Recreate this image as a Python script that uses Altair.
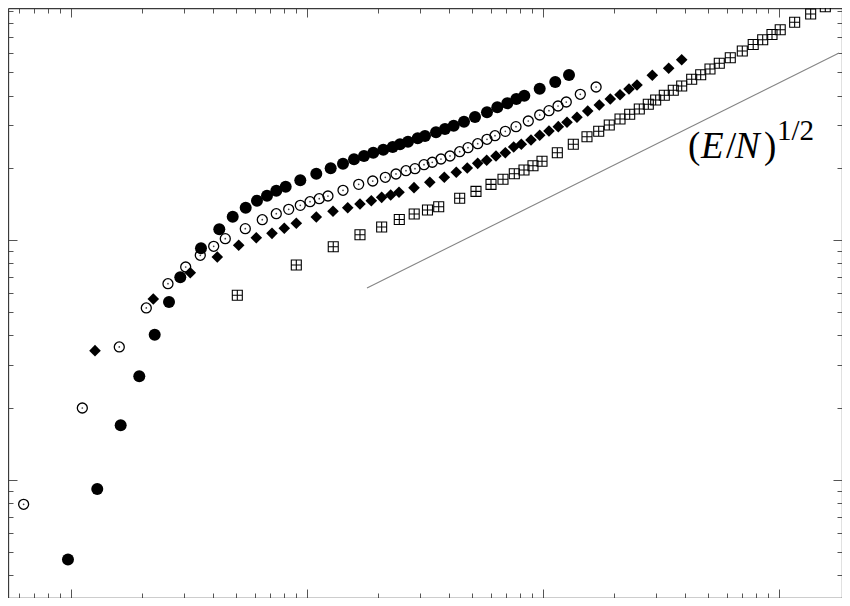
import altair as alt
import pandas as pd

# ---------------- data ----------------
# filled circles
fc_x = [0.971, 1.292, 1.624, 1.947, 2.263, 2.602, 2.905, 3.555, 4.250, 4.845,
        5.499, 6.139, 6.769, 7.412, 8.123, 9.367, 10.95, 12.60, 14.21, 15.82,
        17.44, 19.09, 21.05, 23.07, 24.78, 26.79, 29.45, 31.62, 35.21, 38.43,
        41.84, 46.27, 51.51, 57.90, 64.03, 70.58, 77.07, 83.33, 96.83, 112.7, 128.9]
fc_y = [0.466, 0.917, 1.690, 2.705, 4.031, 5.517, 6.992, 9.234, 11.08, 12.50,
        13.63, 14.58, 15.30, 16.05, 16.68, 17.73, 18.89, 19.90, 20.79, 21.69,
        22.39, 23.11, 23.78, 24.41, 25.05, 25.68, 26.53, 27.12, 28.11, 29.01,
        29.94, 31.11, 32.55, 34.05, 35.72, 37.12, 38.68, 39.93, 42.70, 45.53, 48.70]

# open circles (with centre dot)
oc_x = [0.630, 1.117, 1.602, 2.085, 2.576, 3.062, 3.531, 4.024, 4.506, 5.478,
        6.465, 7.412, 8.366, 9.367, 10.30, 11.27, 12.27, 14.21, 16.56, 18.99,
        21.47, 23.83, 26.27, 28.68, 31.32, 33.95, 36.96, 40.36, 44.36, 48.10,
        52.88, 57.90, 62.60, 69.23, 76.84, 86.64, 96.83, 106.0, 115.8, 125.5,
        143.9, 167.9]
oc_y = [0.792, 1.995, 3.583, 5.209, 6.575, 7.718, 8.635, 9.414, 10.13, 11.15,
        12.15, 12.87, 13.42, 13.95, 14.44, 14.86, 15.25, 16.11, 17.06, 17.61,
        18.25, 18.84, 19.44, 19.82, 20.60, 21.08, 21.75, 22.39, 23.33, 24.25,
        25.19, 26.28, 27.20, 28.37, 29.66, 31.32, 33.18, 34.58, 36.17, 37.58,
        40.47, 43.40]

# filled diamonds
dm_x = [1.264, 2.232, 3.202, 4.168, 5.136, 6.098, 7.107, 8.013, 9.010, 10.95,
        12.89, 14.88, 16.77, 18.73, 20.72, 22.63, 24.54, 28.41, 33.14, 38.18,
        42.91, 47.77, 52.88, 57.73, 63.21, 69.23, 75.13, 80.92, 88.96, 96.83,
        106.0, 116.1, 126.4, 139.3, 154.7, 173.2, 192.8, 212.0, 231.4, 250.2,
        290.5, 340.9, 387.0]
dm_y = [3.458, 5.678, 7.308, 8.495, 9.503, 10.22, 10.66, 11.19, 11.74, 12.47,
        13.17, 13.63, 14.13, 14.58, 15.06, 15.40, 15.81, 16.52, 17.41, 18.25,
        19.15, 19.95, 20.87, 21.48, 22.39, 23.11, 24.41, 25.05, 26.10, 27.31,
        28.46, 29.66, 30.93, 32.46, 34.47, 36.52, 38.68, 40.31, 42.58, 44.24,
        48.56, 51.93, 56.40]

# boxed-plus squares
sq_x = [5.067, 9.010, 12.92, 16.77, 20.72, 24.61, 28.46, 32.40, 36.15, 44.36,
        52.01, 60.21, 67.69, 75.58, 83.08, 90.69, 99.04, 115.0, 134.4, 153.6,
        172.2, 190.9, 212.0, 233.0, 255.9, 279.4, 300.2, 326.6, 356.5, 387.0,
        426.6, 465.8, 510.0, 558.5, 621.7, 699.0, 777.5, 852.9, 933.9, 1012,
        1165, 1362, 1571]
sq_y = [5.883, 7.867, 9.378, 10.52, 11.33, 12.17, 12.83, 13.34, 13.75, 14.92,
        15.95, 17.06, 17.90, 18.89, 19.58, 20.40, 21.28, 23.11, 25.05, 26.94,
        28.37, 30.15, 31.93, 33.40, 35.14, 36.76, 38.31, 40.08, 42.05, 43.82,
        46.73, 48.84, 51.58, 54.48, 57.49, 61.30, 65.25, 68.33, 71.83, 75.13,
        80.74, 87.44, 93.69]

# guide line  ~ (E/N)^(1/2)
ln_x = [17.96, 1796]
ln_y = [6.31, 60.14]

# annotation anchor
lab_x = [411.5]
lab_y = [21.96]

# axis ticks (log decades with minor ticks)
x_ticks = [0.6, 0.7, 0.8, 0.9] + [m * 10 ** e for e in range(0, 3) for m in range(1, 10)] + [1000]
y_ticks = [0.4, 0.5, 0.6, 0.7, 0.8, 0.9] + [m * 10 ** e for e in range(0, 2) for m in range(1, 10)]

X_DOMAIN = [0.5409, 1849]
Y_DOMAIN = [0.3223, 92.62]
W, H = 834, 590

xs = alt.Scale(type="log", domain=X_DOMAIN, nice=False)
ys = alt.Scale(type="log", domain=Y_DOMAIN, nice=False)

major = "abs(log(datum.value)/LN10 - round(log(datum.value)/LN10)) < 0.001"
tick_size = {"condition": {"test": major, "value": 9}, "value": 5}


def ax(orient, offset, values):
    return alt.Axis(orient=orient, offset=offset, values=values, labels=False,
                    title=None, grid=False, ticks=True, tickSize=tick_size,
                    tickColor="#555555", tickWidth=1, domain=True,
                    domainColor="#3a3a3a", domainWidth=1.3)


def enc(chart, xaxis=None, yaxis=None):
    return chart.encode(
        x=alt.X("x:Q", scale=xs, axis=xaxis),
        y=alt.Y("y:Q", scale=ys, axis=yaxis),
    )


df_fc = pd.DataFrame({"x": fc_x, "y": fc_y})
df_oc = pd.DataFrame({"x": oc_x, "y": oc_y})
df_dm = pd.DataFrame({"x": dm_x, "y": dm_y})
df_sq = pd.DataFrame({"x": sq_x, "y": sq_y})
df_ln = pd.DataFrame({"x": ln_x, "y": ln_y})
df_lab = pd.DataFrame({"x": lab_x, "y": lab_y})

line = enc(alt.Chart(df_ln).mark_line(color="#858585", strokeWidth=1.1),
           ax("bottom", -H, x_ticks), ax("left", -W, y_ticks))

squares = enc(alt.Chart(df_sq).mark_point(
    shape="M-1,-1L1,-1L1,1L-1,1Z M0,-1L0,1 M-1,0L1,0",
    size=100, filled=False, stroke="black", strokeWidth=1.1, opacity=1))

diamonds = enc(alt.Chart(df_dm).mark_point(
    shape="diamond", size=135, filled=True, color="black", opacity=1))

open_c = enc(alt.Chart(df_oc).mark_point(
    shape="circle", size=100, filled=False, stroke="black", strokeWidth=1.3, opacity=1))
open_dot = enc(alt.Chart(df_oc).mark_point(
    shape="circle", size=3, filled=True, color="#444444", opacity=1))

filled_c = enc(alt.Chart(df_fc).mark_point(
    shape="circle", size=144, filled=True, color="black", opacity=1),
    ax("top", -H, x_ticks), ax("right", -W, y_ticks))

pieces = [("(", 0, "normal", 37, 0), ("E", 13, "italic", 37, 0),
          ("/", 38, "normal", 37, 0), ("N", 47, "italic", 37, 0),
          (")", 76, "normal", 37, 0), ("1/2", 89, "normal", 29, -18)]
texts = []
for t, dx, style, fs, dy in pieces:
    texts.append(enc(alt.Chart(df_lab).mark_text(
        text=t, align="left", baseline="alphabetic", dx=dx, dy=dy,
        font="Liberation Serif", fontSize=fs, fontStyle=style, color="black")))

chart = alt.layer(line, squares, diamonds, open_c, open_dot, filled_c, *texts).resolve_axis(
    x="independent", y="independent"
).properties(
    width=W, height=H, padding=0,
    autosize=alt.AutoSizeParams(type="none"),
    background="white",
).configure_view(stroke=None)

chart.save("out.html", embed_options={"renderer": "svg", "actions": False})
